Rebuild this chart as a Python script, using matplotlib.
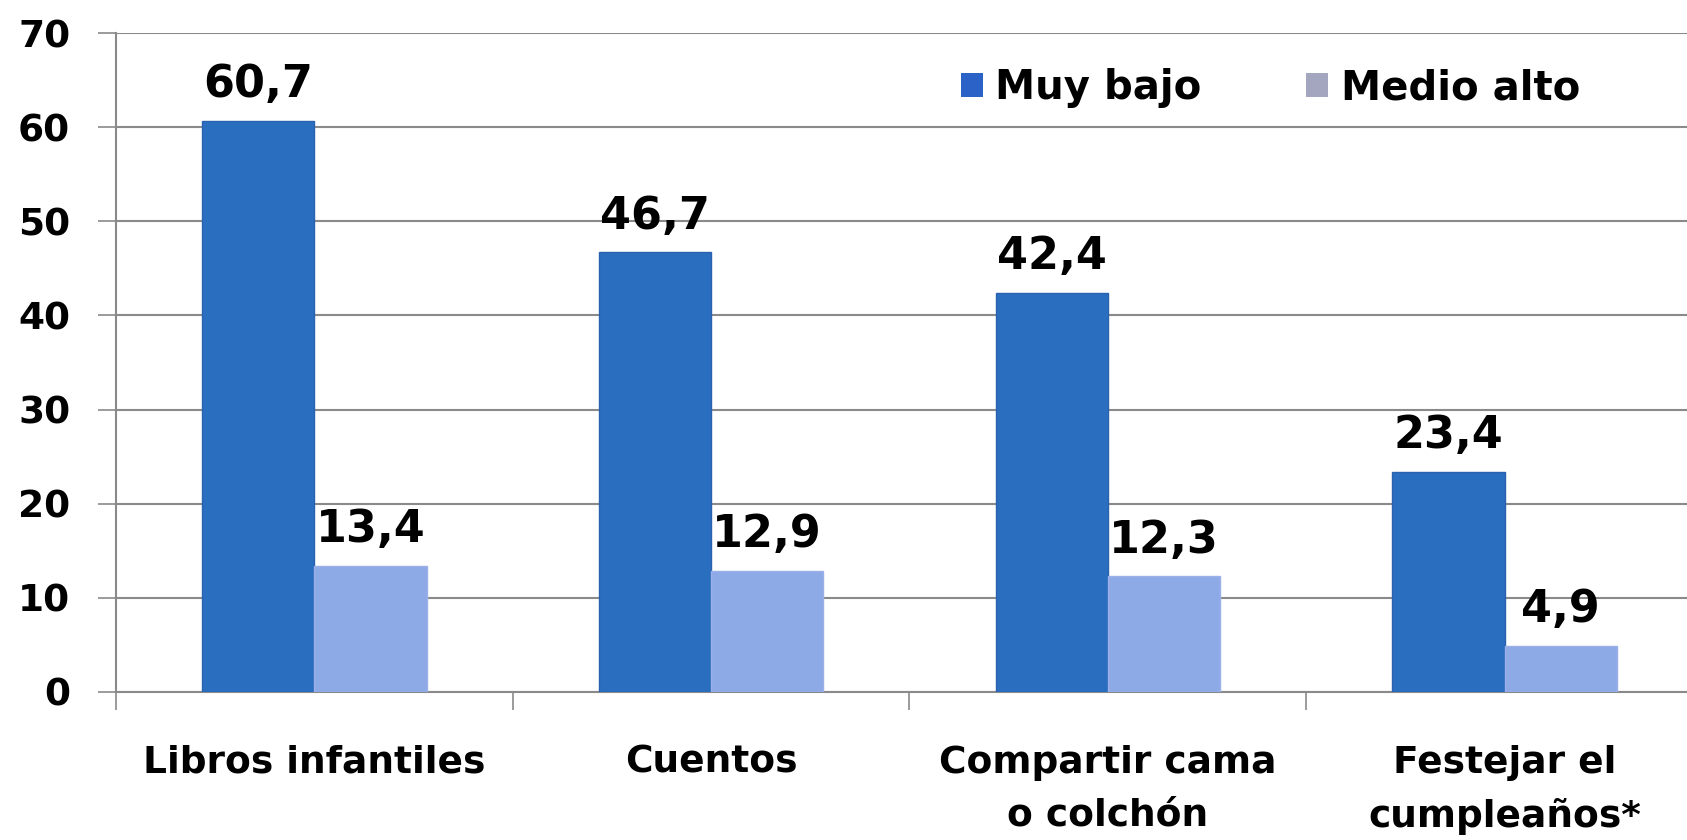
import matplotlib
matplotlib.use("Agg")
import matplotlib.pyplot as plt
from matplotlib.patches import Patch
import numpy as np

categories = ["Libros infantiles", "Cuentos", "Compartir cama\no colchón", "Festejar el\ncumpleaños*"]
muy_bajo = [60.7, 46.7, 42.4, 23.4]
medio_alto = [13.4, 12.9, 12.3, 4.9]
series_names = ["Muy bajo", "Medio alto"]
yticks = [0, 10, 20, 30, 40, 50, 60, 70]

def fmt(v):
    return f"{v:.1f}".replace(".", ",")

plt.rcParams['font.family'] = ['DejaVu Sans']
plt.rcParams['font.weight'] = 'bold'

fig = plt.figure(figsize=(16.87, 8.40), dpi=100)
ax = fig.add_axes([116/1687, 1-692/840, 1-116/1687, (692-33)/840])

x = np.arange(len(categories))
w = 0.283
blue = "#2a6ec0"
light = "#8eaae6"
ax.bar(x - w/2, muy_bajo, w, color=blue, edgecolor="#2a62b0", linewidth=1, zorder=3)
ax.bar(x + w/2, medio_alto, w, color=light, edgecolor="#9bb0e8", linewidth=1, zorder=3)

for xi, v in zip(x - w/2, muy_bajo):
    ax.annotate(fmt(v), (xi, v), xytext=(0, 17), textcoords="offset points",
                ha="center", va="baseline", fontsize=32, fontweight="bold")
for xi, v in zip(x + w/2, medio_alto):
    ax.annotate(fmt(v), (xi, v), xytext=(0, 17), textcoords="offset points",
                ha="center", va="baseline", fontsize=32, fontweight="bold")

ax.set_ylim(0, 70)
ax.set_xlim(-0.5, 3.5 - 16/397)
ax.set_yticks(yticks)
ax.set_yticklabels([str(t) for t in yticks], fontsize=27, fontweight="bold")
ax.yaxis.grid(True, color="#8a8a8a", linewidth=1.5, zorder=0)
ax.set_axisbelow(True)

ax.set_xticks(x)
ax.set_xticklabels(categories, fontsize=27, fontweight="bold", linespacing=1.6)
ax.tick_params(axis="x", which="major", length=0, pad=38)
ax.set_xticks([-0.5, 0.5, 1.5, 2.5], minor=True)
ax.tick_params(axis="x", which="minor", length=13, width=1.2, color="#8a8a8a", direction="out")
ax.tick_params(axis="y", length=13, width=1.2, color="#8a8a8a", pad=20)

for s in ["top", "right"]:
    ax.spines[s].set_visible(False)
for s in ["left", "bottom"]:
    ax.spines[s].set_color("#8a8a8a")
    ax.spines[s].set_linewidth(1.5)

handles = [Patch(facecolor="#2b62c8", edgecolor="none"), Patch(facecolor="#a4a6c0", edgecolor="none")]
leg = ax.legend(handles, series_names, loc="center left", ncol=2, frameon=False,
                handlelength=0.55, handleheight=0.55, handletextpad=0.3, columnspacing=2.6,
                prop={"weight": "bold", "size": 29})
leg.set_bbox_to_anchor((935/1687 - 0.006, 1-88/840), transform=fig.transFigure)

fig.savefig("out.png", dpi=100, facecolor="white")
